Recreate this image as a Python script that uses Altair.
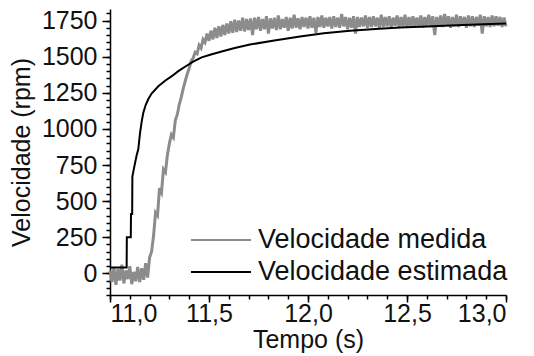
import altair as alt
import pandas as pd

# Measured speed, sampled every 0.01 s from 11.00 s to 13.00 s (rpm)
medida_inicio = [20, -60, 40, -80, 30, -50, 60, -70, 20, -40, 50, -75, 10, -55, 45, -60, 35, -45, 70, -30, 110]
medida_subida = [150, 260, 420, 400, 590, 560, 720, 700, 820, 900, 960, 940, 1060, 1100, 1170, 1220, 1280, 1330,
                 1380, 1420, 1470, 1490, 1530, 1520, 1580, 1560, 1620, 1600, 1660, 1610, 1680, 1620, 1700, 1630,
                 1710, 1640, 1720, 1650, 1730, 1660]
medida_patamar = [1745, 1665, 1755, 1670, 1750, 1680, 1770, 1675, 1760, 1685, 1765, 1650, 1770, 1690, 1775, 1680,
                  1760, 1690, 1780, 1660, 1765, 1695, 1770, 1685, 1785, 1690, 1760, 1700, 1775, 1680, 1770, 1695,
                  1790, 1700, 1765, 1690, 1775, 1705, 1770, 1695,
                  1780, 1700, 1770, 1665, 1775, 1705, 1785, 1700, 1770, 1710, 1775, 1695, 1780, 1705, 1770, 1700,
                  1795, 1710, 1775, 1690, 1770, 1700, 1780, 1660, 1775, 1705, 1770, 1710, 1785, 1700, 1775, 1705,
                  1780, 1710, 1770, 1700, 1790, 1705, 1775, 1710, 1780, 1700, 1770, 1715, 1785, 1705, 1775, 1710,
                  1790, 1700, 1775, 1710, 1780, 1705, 1770, 1715, 1785, 1700, 1775, 1710, 1790, 1705, 1780, 1650,
                  1775, 1710, 1785, 1705, 1795, 1715, 1780, 1700, 1775, 1710, 1790, 1705, 1780, 1715, 1775, 1700,
                  1785, 1710, 1780, 1705, 1775, 1715, 1790, 1660, 1780, 1710, 1775, 1705, 1785, 1710, 1780, 1715,
                  1775, 1705, 1770, 1710]
medida = medida_inicio + medida_subida + medida_patamar
tempo_medida = [round(11.0 + i * 0.01, 2) for i in range(len(medida))]

# Estimated speed (rpm)
tempo_estimada = [11.0, 11.084, 11.085, 11.105, 11.106, 11.112, 11.113, 11.12, 11.126, 11.135, 11.143, 11.152,
                  11.16, 11.168, 11.18, 11.193, 11.21, 11.244, 11.28, 11.312, 11.345, 11.379, 11.42, 11.463,
                  11.51, 11.564, 11.63, 11.707, 11.83, 11.96, 12.08, 12.212, 12.34, 12.465, 12.6, 12.717,
                  12.85, 13.0]
estimada = [40, 40, 250, 250, 410, 410, 670, 720, 760, 820, 860, 975,
            1050, 1110, 1165, 1205, 1245, 1295, 1335, 1365, 1400, 1430, 1465, 1495,
            1515, 1536, 1560, 1584, 1612, 1639, 1662, 1680, 1692, 1702, 1709, 1715,
            1722, 1729]

series = ["Velocidade medida", "Velocidade estimada"]
cores = ["#8c8c8c", "#000000"]
x_major = [11.0, 11.5, 12.0, 12.5, 13.0]
x_minor = [round(11.0 + i * 0.1, 1) for i in range(21)]
y_major = [0, 250, 500, 750, 1000, 1250, 1500, 1750]
y_minor = [-150 + 50 * i for i in range(40)]

df_m = pd.DataFrame({"t": tempo_medida, "v": medida, "s": series[0], "o": range(len(medida))})
df_e = pd.DataFrame({"t": tempo_estimada, "v": estimada, "s": series[1], "o": range(len(estimada))})

FONT = "Liberation Sans"
FS = 25


def legenda(y):
    return alt.Legend(title=None, orient="none", legendX=80, legendY=y,
                      symbolType="stroke", symbolSize=3600, symbolStrokeWidth=2,
                      labelFont=FONT, labelFontSize=27, labelColor="#111111",
                      labelLimit=400, padding=0, labelOffset=6)


xscale = alt.Scale(domain=[11.0, 13.0], nice=False, zero=False)
yscale = alt.Scale(domain=[-150, 1830], nice=False, zero=False)

meas = alt.Chart(df_m).mark_line(strokeWidth=3, interpolate="linear").encode(
    x=alt.X("t:Q", scale=xscale,
            axis=alt.Axis(values=x_major, orient="bottom", title="Tempo (s)", tickSize=7,
                          labelExpr="replace(format(datum.value, '.1f'), '.', ',')",
                          labelPadding=-1, titlePadding=1, grid=False)),
    y=alt.Y("v:Q", scale=yscale,
            axis=alt.Axis(values=y_major, orient="left", title="Velocidade (rpm)", tickSize=8,
                          format="d", labelPadding=5, titlePadding=7, grid=False)),
    color=alt.Color("s:N", scale=alt.Scale(domain=[series[0]], range=[cores[0]]), legend=legenda(200)),
    order="o:Q",
)

est = alt.Chart(df_e).mark_line(strokeWidth=2).encode(
    x=alt.X("t:Q", scale=xscale,
            axis=alt.Axis(values=x_minor, orient="bottom", title=None, labels=False, domain=False,
                          tickSize=4, grid=False)),
    y=alt.Y("v:Q", scale=yscale,
            axis=alt.Axis(values=y_minor, orient="left", title=None, labels=False, domain=False,
                          tickSize=4, grid=False)),
    color=alt.Color("s:N", scale=alt.Scale(domain=[series[1]], range=[cores[1]]), legend=legenda(232)),
    order="o:Q",
)

chart = alt.layer(meas, est).resolve_axis(x="independent", y="independent").resolve_scale(
    color="independent"
).properties(
    width=396, height=286,
    autosize=alt.AutoSizeParams(type="none"),
    padding={"left": 110, "top": 9, "right": 28, "bottom": 61},
    background="white",
).configure_view(stroke=None).configure_axis(
    domainColor="#000000", domainWidth=1.5, tickColor="#000000", tickWidth=1.5,
    labelFont=FONT, labelFontSize=FS, labelColor="#111111",
    titleFont=FONT, titleFontSize=FS, titleColor="#111111", titleFontWeight="normal",
)

chart.save("out.html", embed_options={"renderer": "svg", "actions": False})
